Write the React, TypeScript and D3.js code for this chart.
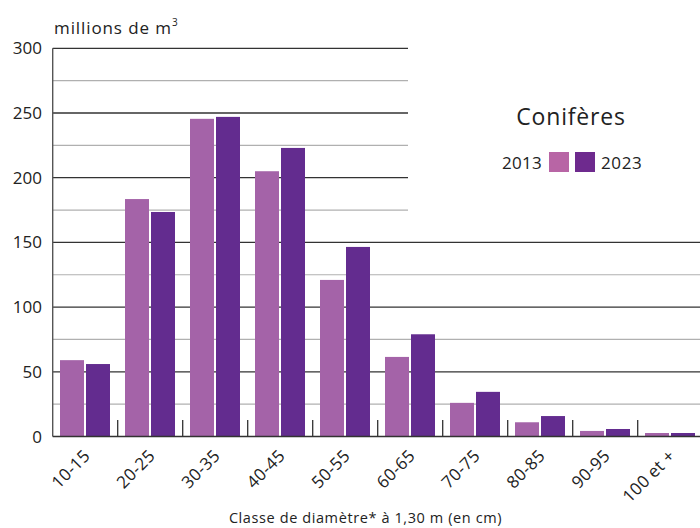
import React from "react";
import * as d3 from "d3";

const categories = ["10-15", "20-25", "30-35", "40-45", "50-55", "60-65", "70-75", "80-85", "90-95", "100 et +"];
const values2013 = [59, 183.5, 245.5, 205, 121, 61.5, 26, 11, 4.3, 2.7];
const values2023 = [56, 173.5, 247, 223, 146.5, 79, 34.5, 15.8, 5.8, 2.7];
const seriesNames = ["2013", "2023"];
const majorTicks = [0, 50, 100, 150, 200, 250, 300];
const minorTicks = [25, 75, 125, 175, 225, 275];

const W = 700, H = 528;
const FONT = "'Open Sans', 'DejaVu Sans', sans-serif";
const C2013 = "#A463A8";
const C2023 = "#632C8F";

export default function App() {
  const x = d3.scaleBand<string>().domain(categories).range([52.7, 702.7]).padding(0);
  const y = d3.scaleLinear().domain([0, 300]).range([436.5, 48.3]);
  const bw = 24;
  const legendCut = 408;
  const gridEnd = (v: number) => (v > 150 ? legendCut : W);

  return (
    <svg width={W} height={H} style={{ position: "absolute", left: 0, top: 0, fontFamily: FONT }}>
      <rect width={W} height={H} fill="#fff" />
      {minorTicks.map((v) => (
        <line key={"mi" + v} x1={52.7} x2={gridEnd(v)} y1={y(v)} y2={y(v)} stroke="#b0b0b0" strokeWidth={1.2} />
      ))}
      {majorTicks.filter((v) => v > 0).map((v) => (
        <line key={"ma" + v} x1={52.7} x2={gridEnd(v)} y1={y(v)} y2={y(v)} stroke="#333" strokeWidth={1.3} />
      ))}
      {categories.map((c, i) => {
        const x0 = x(c)! + 7.3;
        return (
          <g key={c}>
            <rect x={x0} y={y(values2013[i])} width={bw} height={y(0) - y(values2013[i])} fill={C2013} />
            <rect x={x0 + bw + 2} y={y(values2023[i])} width={bw} height={y(0) - y(values2023[i])} fill={C2023} />
          </g>
        );
      })}
      {categories.slice(1).map((c) => (
        <line key={"t" + c} x1={x(c)!} x2={x(c)!} y1={420} y2={y(0)} stroke="#333" strokeWidth={1.3} />
      ))}
      <line x1={52.7} x2={52.7} y1={48.3} y2={y(0)} stroke="#555" strokeWidth={1.4} />
      <line x1={52.7} x2={W} y1={y(0)} y2={y(0)} stroke="#333" strokeWidth={1.5} />
      {majorTicks.map((v) => (
        <text key={"yl" + v} x={42} y={y(v) + 6} textAnchor="end" fontSize={17} fill="#222">{v}</text>
      ))}
      <text x={54} y={34} fontSize={17} letterSpacing={0.9} fill="#222">millions de m<tspan dy={-8} fontSize={10}>3</tspan></text>
      {categories.map((c) => {
        const cx = x(c)! + x.bandwidth() / 2 + 6;
        return (
          <text key={"xl" + c} transform={`translate(${cx},${457}) rotate(-45)`} textAnchor="end" fontSize={17} letterSpacing={0.3} fill="#222">{c}</text>
        );
      })}
      <text x={365.5} y={523} textAnchor="middle" fontSize={14.5} letterSpacing={0.6} fill="#222">Classe de diamètre* à 1,30 m (en cm)</text>
      <text x={571} y={125} textAnchor="middle" fontSize={23} letterSpacing={0.8} fill="#222">Conifères</text>
      <text x={542} y={169} textAnchor="end" fontSize={17} letterSpacing={0.3} fill="#222">{seriesNames[0]}</text>
      <rect x={549} y={152} width={20} height={20} fill="#B865A5" />
      <rect x={575} y={152} width={20} height={20} fill="#6E2A8E" />
      <text x={601} y={169} fontSize={17} letterSpacing={0.6} fill="#222">{seriesNames[1]}</text>
    </svg>
  );
}
